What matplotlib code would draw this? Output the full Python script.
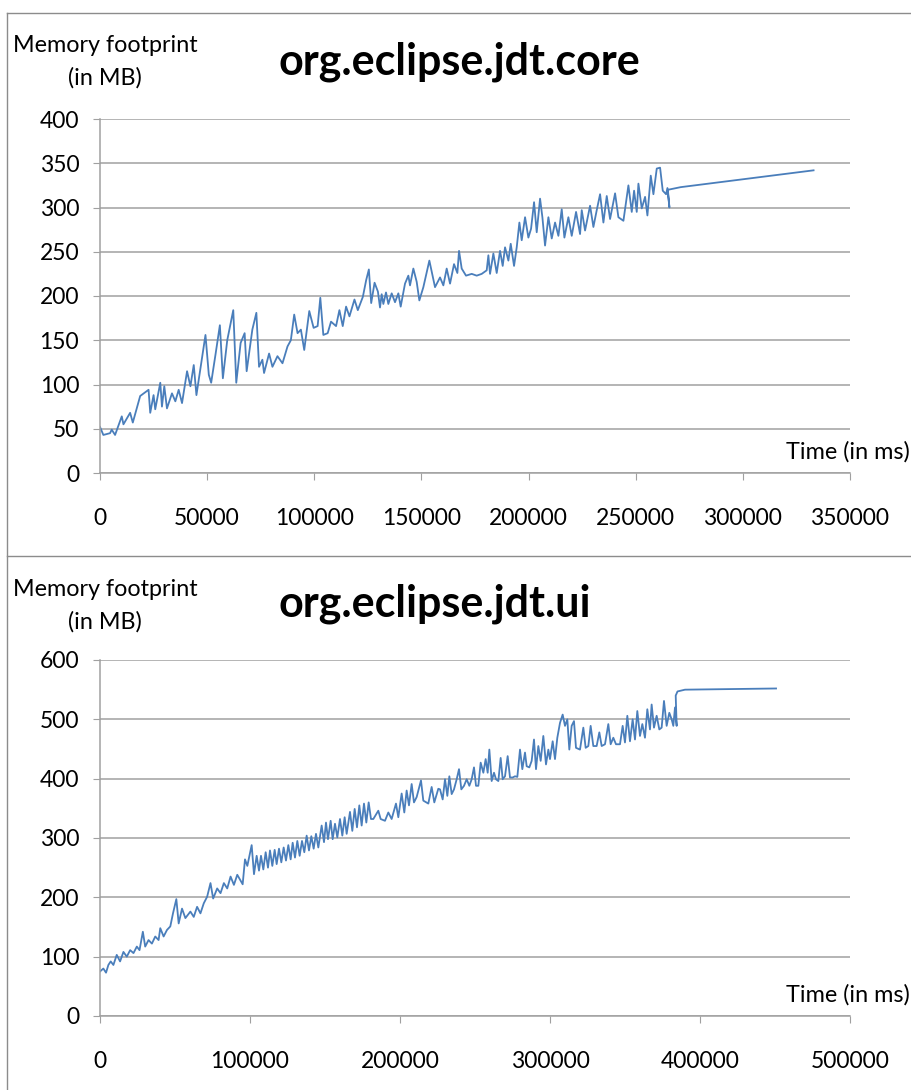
import matplotlib
matplotlib.use("Agg")
import matplotlib.pyplot as plt
from matplotlib.lines import Line2D

plt.rcParams['font.family'] = ['Lato', 'DejaVu Sans']

# org.eclipse.jdt.core : time (ms), memory (MB)
core_time = [0, 1560, 4690, 5470, 7030, 10160, 10940, 14060, 15310, 18750, 22660, 23440,
             25000, 25780, 28130, 28910, 30000, 31250, 33590, 35160, 36720, 38280, 40630,
             42190, 43750, 45000, 49220, 50780, 51880, 53910, 55940, 57340, 59380, 62190,
             63590, 65630, 67500, 68440, 71090, 72970, 74220, 75780, 76560, 78910, 80470,
             82810, 85160, 87500, 89060, 90630, 92190, 93750, 95310, 97660, 99690, 101560,
             102810, 104220, 106250, 107810, 110160, 111720, 113280, 114840, 116410, 118750,
             120310, 122660, 124220, 125470, 126560, 128130, 129690,
             130670, 131450, 132230, 133470, 134560, 136120, 137670, 139230, 140320, 142340,
             143900, 144670, 146230, 147790, 149030, 150900, 153700, 156340, 158680, 160230,
             161790, 163350, 165210, 166770, 167550, 168790, 170810, 173460, 175790, 178130,
             180460, 181240, 182020, 183570, 185130, 186690, 187930, 189020, 190580, 191670,
             193220, 194470, 195710, 196800, 198360, 199910, 201160, 202560, 203800, 205360,
             206450, 207690, 209250, 210810, 212360, 213920, 215470, 216720, 218580, 220140,
             222160, 224030, 224810, 226360, 228700, 230250, 231810, 233370, 234920, 236480,
             238030, 240370, 241920, 244260, 246590, 248150, 249240, 250480, 251260, 252820,
             254370, 255460, 257020, 258260, 259820, 261370, 262620, 264170, 264800, 265730,
             265000, 271000, 333000]
core_mem = [52, 43, 45, 49, 43, 64, 55, 68, 57, 87, 94, 68,
            88, 72, 102, 75, 98, 73, 90, 81, 94, 79, 115,
            98, 122, 88, 156, 111, 102, 134, 167, 107, 150, 184,
            102, 147, 158, 115, 162, 181, 120, 128, 113, 135, 120,
            132, 124, 143, 150, 179, 158, 162, 139, 183, 164, 166,
            198, 156, 158, 171, 166, 184, 166, 188, 177, 196,
            184, 199, 218, 230, 192, 215, 205,
            187, 202, 191, 204, 191, 203, 193, 203, 188, 214,
            223, 212, 231, 216, 195, 210, 240, 210, 221, 212,
            231, 214, 236, 226, 251, 231, 223, 225, 223, 225,
            229, 246, 225, 248, 226, 251, 234, 255, 240, 259,
            234, 255, 283, 263, 289, 266, 276, 306, 272, 310,
            289, 257, 289, 265, 283, 268, 298, 266, 289, 268,
            295, 270, 297, 274, 302, 278, 297, 315, 283, 313,
            287, 316, 289, 285, 325, 295, 319, 295, 327, 299,
            312, 291, 336, 315, 344, 345, 319, 315, 322, 300,
            320, 323, 342]

# org.eclipse.jdt.ui : time (ms), memory (MB)
ui_time = [0, 2230, 4020, 5580, 7140, 8930, 11160, 13390, 15620, 17860, 20090, 22320,
           24550, 26340, 28570, 30130, 32360, 34600, 36830, 39060, 40180, 42410, 44640,
           46870, 48660, 50890, 52450, 54680, 56920, 60260, 62500, 64730, 66960, 69190,
           71420, 73660, 75440, 78120, 80350, 82580, 84820, 87050, 89280, 91510,
           93330, 95110, 96660, 98220, 101110, 102660, 104440, 106000, 107330, 108880,
           110440, 111990, 113330, 114880, 116440, 117770, 119330, 120880, 122440, 123990,
           125550, 127100, 128440, 129990, 131550, 133100, 134660, 136210, 137770, 139320,
           140880, 142440, 143990, 145550, 147770, 149330, 150660, 151990, 153770, 155100,
           156660, 158210, 159990, 161550, 163100, 164440, 166660, 168210, 169770, 171320,
           172880, 174440, 175990, 177550, 179110, 180660, 182210, 185540, 187100, 189990,
           192210, 194430, 197320, 198880, 201100, 202870, 204430, 205990, 207770, 209320,
           211100, 213990, 215540, 218880, 221100, 222870, 225540,
           226670, 228450, 230000, 231560, 232890, 234450, 236000, 237780, 239340, 240890,
           242670, 244450, 246220, 247780, 249330, 250670, 252220, 253780, 255560, 257110,
           258450, 259560, 261110, 262670, 264000, 265560, 267110, 268450, 270000, 271780,
           273330, 275110, 276670, 278220, 280000, 281550, 283330, 284440, 286220, 287780,
           289330, 290670, 292220, 293780, 295550, 297330, 298890, 300000, 301780, 303330,
           304880, 306660, 308440, 310000, 311550, 312880, 314440, 315990, 317330, 319990,
           322220, 323770, 325550, 327100, 328880, 331100, 332880, 334440, 336660, 338880,
           340440, 342210, 343990, 346660, 348440, 349990, 351550, 353320, 355100, 356660,
           358210, 359990, 361550, 363320, 364880, 366650, 367760, 369320, 371100, 372870,
           374430, 375990, 377770, 379540, 381100, 382210, 383330, 384440,
           383800, 385000, 390000, 420000, 450700]
ui_mem = [75, 80, 73, 86, 92, 86, 103, 92, 108, 100, 111, 106,
          117, 111, 142, 117, 128, 122, 134, 128, 148, 134, 145,
          151, 173, 197, 156, 181, 165, 176, 167, 184, 173, 190,
          201, 224, 198, 215, 207, 224, 215, 235, 221, 238,
          230, 222, 264, 253, 288, 239, 270, 245, 270, 247,
          276, 250, 279, 253, 280, 256, 282, 259, 284, 262,
          288, 264, 292, 267, 295, 270, 295, 276, 304, 279,
          303, 282, 307, 284, 321, 293, 326, 298, 329, 298,
          324, 301, 332, 304, 335, 307, 344, 312, 349, 318,
          355, 321, 358, 326, 360, 332, 332, 346, 332, 329,
          343, 332, 358, 335, 375, 343, 380, 355, 391, 360,
          369, 397, 363, 358, 386, 360, 383,
          382, 365, 399, 371, 404, 374, 382, 399, 416, 382,
          388, 399, 388, 399, 419, 388, 388, 427, 410, 433,
          410, 449, 396, 410, 399, 396, 435, 399, 404, 438,
          402, 402, 404, 403, 449, 416, 444, 421, 419, 430,
          466, 416, 455, 430, 472, 424, 449, 433, 463, 433,
          469, 494, 508, 489, 500, 449, 489, 497, 452, 449,
          486, 452, 455, 489, 455, 455, 478, 455, 458, 492,
          458, 469, 458, 458, 489, 461, 506, 463, 500, 466,
          514, 472, 492, 469, 517, 483, 525, 486, 506, 483,
          486, 531, 489, 511, 500, 489, 520, 489,
          540, 547, 550, 551, 552]

core_xticks = [0, 50000, 100000, 150000, 200000, 250000, 300000, 350000]
core_yticks = [0, 50, 100, 150, 200, 250, 300, 350, 400]
ui_xticks = [0, 100000, 200000, 300000, 400000, 500000]
ui_yticks = [0, 100, 200, 300, 400, 500, 600]

W, H = 912, 1090
fig = plt.figure(figsize=(W / 100, H / 100), dpi=100)

line_color = '#4a7ebb'
grid_color = '#a0a0a0'


def px(x, y):
    return x / W, 1 - y / H


def make_panel(rect, t, m, xticks, yticks, title, y_title, y_lab, y_time):
    ax = fig.add_axes(rect)
    ax.plot(t, m, color=line_color, lw=1.3)
    ax.set_xlim(xticks[0], xticks[-1])
    ax.set_ylim(yticks[0], yticks[-1])
    ax.set_xticks(xticks)
    ax.set_yticks(yticks)
    ax.set_xticklabels([str(v) for v in xticks])
    ax.set_yticklabels([str(v) for v in yticks])
    ax.yaxis.grid(True, color=grid_color, lw=1.1)
    ax.set_axisbelow(True)
    for s in ['top', 'right']:
        ax.spines[s].set_visible(False)
    for s in ['left', 'bottom']:
        ax.spines[s].set_color(grid_color)
        ax.spines[s].set_linewidth(1.1)
    ax.tick_params(axis='x', direction='out', length=5, color=grid_color, pad=20, labelsize=16.5)
    ax.tick_params(axis='y', direction='out', length=5, color=grid_color, pad=10, labelsize=16.5)
    fig.text(*px(279, y_title), title, fontsize=31, fontweight='bold', ha='left', va='center')
    fig.text(*px(105, y_lab), 'Memory footprint', fontsize=16.8, ha='center', va='center')
    fig.text(*px(105, y_lab + 32), '(in MB)', fontsize=16.8, ha='center', va='center')
    fig.text(*px(910, y_time), 'Time (in ms)', fontsize=16.8, ha='right', va='center')
    return ax


make_panel([100 / W, 1 - 473 / H, 750 / W, 354 / H], core_time, core_mem,
           core_xticks, core_yticks, 'org.eclipse.jdt.core', 62, 46, 452)
make_panel([100 / W, 1 - 1016 / H, 750 / W, 356 / H], ui_time, ui_mem,
           ui_xticks, ui_yticks, 'org.eclipse.jdt.ui', 604, 590, 995)

# panel frames
frame = dict(color='#8c8c8c', lw=1.0)
fig.add_artist(Line2D([7 / W, 1], [1 - 13 / H] * 2, **frame))
fig.add_artist(Line2D([7 / W, 1], [1 - 556 / H] * 2, **frame))
fig.add_artist(Line2D([7 / W] * 2, [1 - 13 / H, 0], **frame))

fig.savefig('out.png', dpi=100)
